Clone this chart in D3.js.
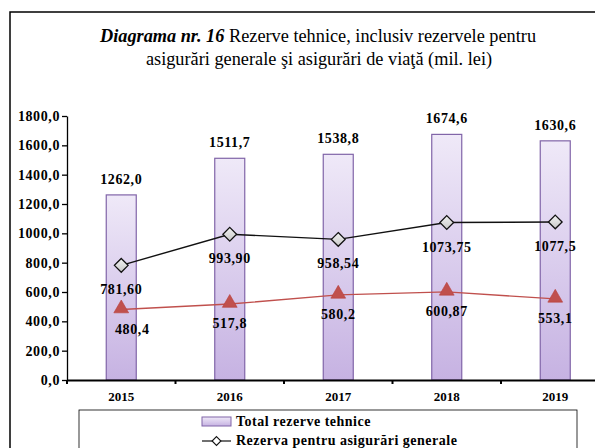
<!DOCTYPE html>
<html>
<head>
<meta charset="utf-8">
<script src="https://cdn.jsdelivr.net/npm/d3@7"></script>
<style>
  html, body { margin: 0; padding: 0; background: #fff; }
  svg { display: block; }
</style>
</head>
<body>
<svg id="chart" width="595" height="448"></svg>
<script>
const years = ['2015', '2016', '2017', '2018', '2019'];
const totalReserves = [1262.0, 1511.7, 1538.8, 1674.6, 1630.6];
const generalReserves = [781.60, 993.90, 958.54, 1073.75, 1077.5];
const lifeReserves = [480.4, 517.8, 580.2, 600.87, 553.1];
const totalLabels = ['1262,0', '1511,7', '1538,8', '1674,6', '1630,6'];
const generalLabels = ['781,60', '993,90', '958,54', '1073,75', '1077,5'];
const lifeLabels = ['480,4', '517,8', '580,2', '600,87', '553,1'];
const yTicks = [0, 200, 400, 600, 800, 1000, 1200, 1400, 1600, 1800];

const serif = 'Liberation Serif';
const svg = d3.select('#chart').attr('font-family', serif);

// gradients for bars and diamond markers
const defs = svg.append('defs');
const barGrad = defs.append('linearGradient')
  .attr('id', 'barGrad').attr('x1', 0).attr('y1', 0).attr('x2', 0).attr('y2', 1);
barGrad.append('stop').attr('offset', '0%').attr('stop-color', '#efe9f8');
barGrad.append('stop').attr('offset', '100%').attr('stop-color', '#c6b2e2');
const diaGrad = defs.append('linearGradient')
  .attr('id', 'diaGrad').attr('x1', 0).attr('y1', 0).attr('x2', 0).attr('y2', 1);
diaGrad.append('stop').attr('offset', '0%').attr('stop-color', '#f2f2f2');
diaGrad.append('stop').attr('offset', '100%').attr('stop-color', '#c8c8c8');

// outer frame (runs off the right/bottom edge like the source)
svg.append('rect')
  .attr('x', 10).attr('y', 12).attr('width', 620).attr('height', 460)
  .attr('fill', 'none').attr('stroke', '#000').attr('stroke-width', 1.5);

// title, two centred lines
const title1 = svg.append('text')
  .attr('font-family', serif).attr('font-size', 18.3).attr('fill', '#000')
  .attr('text-anchor', 'middle').attr('x', 318).attr('y', 42);
title1.append('tspan').attr('font-weight', 'bold').attr('font-style', 'italic').text('Diagrama nr. 16');
title1.append('tspan').text(' Rezerve tehnice, inclusiv rezervele pentru');
svg.append('text')
  .attr('font-family', serif).attr('font-size', 18.3).attr('fill', '#000')
  .attr('text-anchor', 'middle').attr('x', 319).attr('y', 65)
  .text('asigurări generale şi asigurări de viaţă (mil. lei)');

const x = d3.scaleBand().domain(years).range([67, 609.5]);
const y = d3.scaleLinear().domain([0, 1800]).range([380, 116]);
const cx = (d) => x(d) + x.bandwidth() / 2;
const barW = 30;

const labelStyle = (sel) => sel
  .attr('font-family', serif).attr('font-size', 14).attr('font-weight', 'bold')
  .attr('letter-spacing', 0.6).attr('fill', '#000');

// y axis
const yAxis = svg.append('g')
  .attr('transform', 'translate(67,0)')
  .call(d3.axisLeft(y).tickValues(yTicks).tickSize(5).tickSizeOuter(0)
    .tickFormat((d) => d3.format('.1f')(d).replace('.', ',')));
yAxis.select('.domain').attr('stroke', '#000').attr('stroke-width', 1.3);
yAxis.selectAll('.tick line').attr('stroke', '#000').attr('stroke-width', 1.3);
yAxis.selectAll('.tick text').call(labelStyle).attr('x', -7);

// bars
svg.append('g').selectAll('rect')
  .data(years)
  .join('rect')
  .attr('x', (d) => cx(d) - barW / 2)
  .attr('y', (d, i) => y(totalReserves[i]))
  .attr('width', barW)
  .attr('height', (d, i) => y(0) - y(totalReserves[i]))
  .attr('fill', 'url(#barGrad)')
  .attr('stroke', '#8064a8').attr('stroke-width', 1.2);

svg.append('g').selectAll('text')
  .data(years)
  .join('text')
  .attr('x', cx)
  .attr('y', (d, i) => y(totalReserves[i]) - 11)
  .attr('text-anchor', 'middle').call(labelStyle)
  .text((d, i) => totalLabels[i]);

// x axis
const xAxis = svg.append('g')
  .attr('transform', 'translate(0,380)')
  .call(d3.axisBottom(x).tickSize(0).tickSizeOuter(0));
xAxis.select('.domain').attr('stroke', '#000').attr('stroke-width', 2.2);
xAxis.selectAll('.tick text')
  .attr('font-family', serif)
  .attr('font-size', 13).attr('font-weight', 'bold').attr('fill', '#000').attr('dy', 18);
xAxis.selectAll('.bound')
  .data(years.concat(['end']))
  .join('line')
  .attr('x1', (d, i) => x.range()[0] + i * x.step())
  .attr('x2', (d, i) => x.range()[0] + i * x.step())
  .attr('y1', 0).attr('y2', 4)
  .attr('stroke', '#000').attr('stroke-width', 2);

// general insurance line
const line = (vals) => d3.line().x((d, i) => cx(years[i])).y((d) => y(d))(vals);
svg.append('path').attr('d', line(generalReserves))
  .attr('fill', 'none').attr('stroke', '#111').attr('stroke-width', 1.4);
svg.append('g').selectAll('path')
  .data(generalReserves)
  .join('path')
  .attr('d', d3.symbol(d3.symbolDiamond2, 120))
  .attr('transform', (d, i) => `translate(${cx(years[i])},${y(d)})`)
  .attr('fill', 'url(#diaGrad)').attr('stroke', '#111').attr('stroke-width', 1.3);
svg.append('g').selectAll('text')
  .data(generalReserves)
  .join('text')
  .attr('x', (d, i) => cx(years[i]))
  .attr('y', (d) => y(d) + 29)
  .attr('text-anchor', 'middle').call(labelStyle)
  .text((d, i) => generalLabels[i]);

// life insurance line
svg.append('path').attr('d', line(lifeReserves))
  .attr('fill', 'none').attr('stroke', '#c0504d').attr('stroke-width', 1.4);
svg.append('g').selectAll('path')
  .data(lifeReserves)
  .join('path')
  .attr('d', d3.symbol(d3.symbolTriangle, 95))
  .attr('transform', (d, i) => `translate(${cx(years[i])},${y(d) - 1})`)
  .attr('fill', '#c0504d').attr('stroke', '#b8403d').attr('stroke-width', 0.6);
svg.append('g').selectAll('text')
  .data(lifeReserves)
  .join('text')
  .attr('x', (d, i) => cx(years[i]) + (i === 0 ? 11 : 0))
  .attr('y', (d) => y(d) + 24)
  .attr('text-anchor', 'middle').call(labelStyle)
  .text((d, i) => lifeLabels[i]);

// legend
const legend = svg.append('g');
legend.append('rect')
  .attr('x', 79).attr('y', 410).attr('width', 498).attr('height', 60)
  .attr('fill', '#fff').attr('stroke', '#000').attr('stroke-width', 0.8);
legend.append('rect')
  .attr('x', 202).attr('y', 417).attr('width', 29).attr('height', 9)
  .attr('fill', 'url(#barGrad)').attr('stroke', '#8064a8').attr('stroke-width', 1);
legend.append('text').attr('x', 236).attr('y', 426)
  .call(labelStyle).attr('letter-spacing', 0.5)
  .text('Total rezerve tehnice');
legend.append('line')
  .attr('x1', 202).attr('x2', 231).attr('y1', 441).attr('y2', 441)
  .attr('stroke', '#111').attr('stroke-width', 1.2);
legend.append('path')
  .attr('d', d3.symbol(d3.symbolDiamond2, 50))
  .attr('transform', 'translate(216.5,441)')
  .attr('fill', '#fff').attr('stroke', '#111').attr('stroke-width', 1.1);
legend.append('text').attr('x', 236).attr('y', 445)
  .call(labelStyle).attr('letter-spacing', 0.5)
  .text('Rezerva pentru asigurări generale');
</script>
</body>
</html>
